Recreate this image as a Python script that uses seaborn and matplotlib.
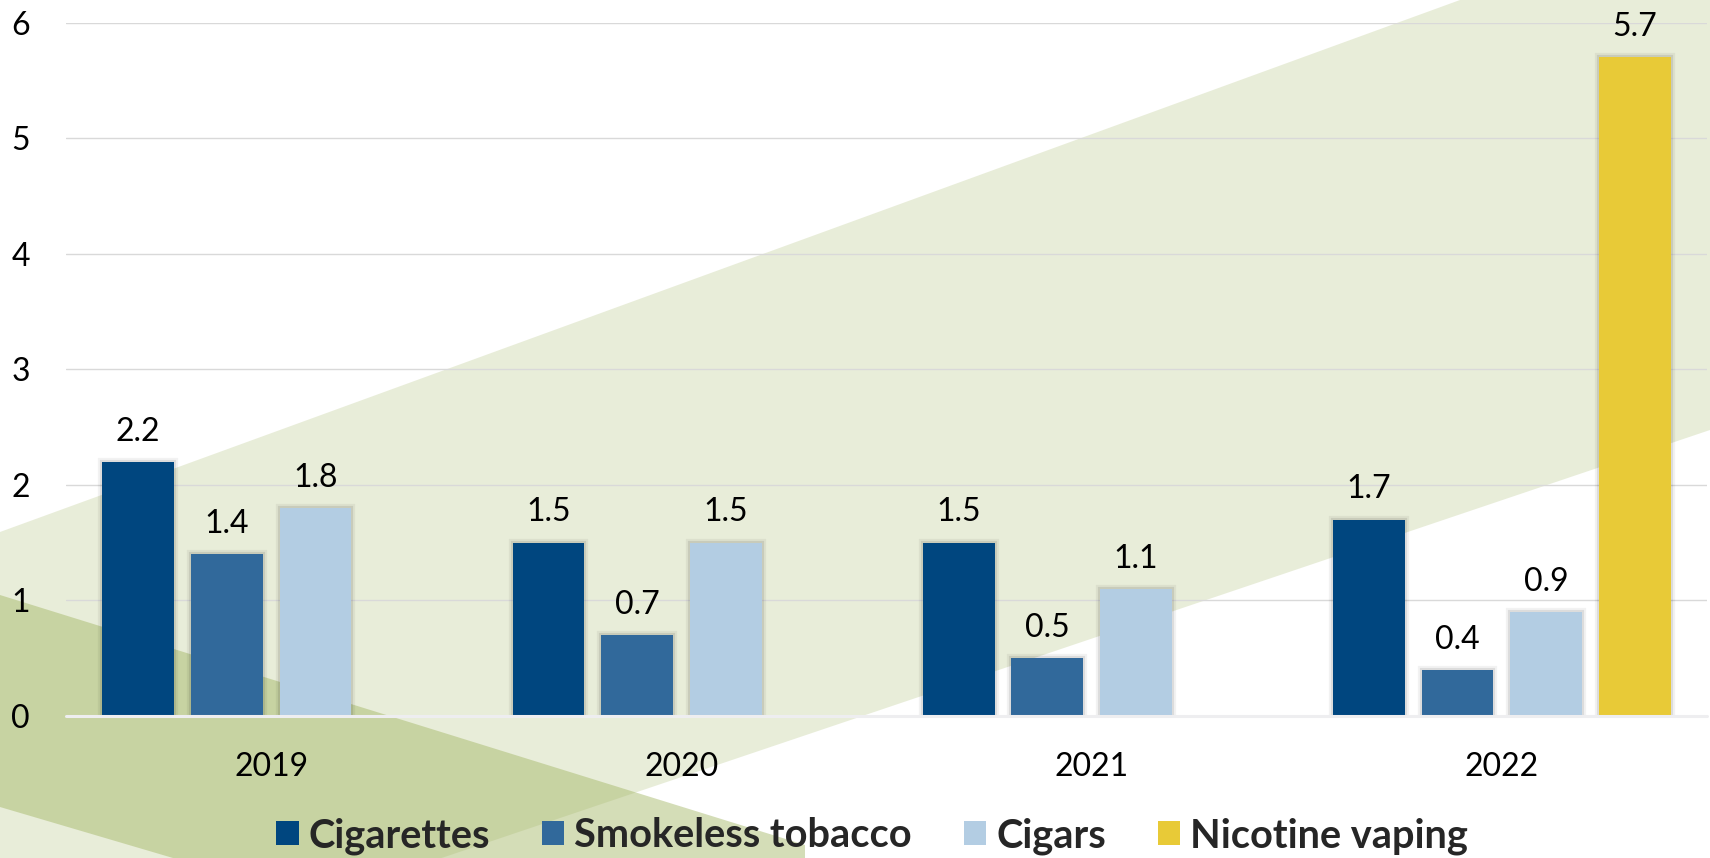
import matplotlib
matplotlib.use("Agg")
import matplotlib.pyplot as plt
import matplotlib.patheffects as pe
from matplotlib.patches import Polygon, Patch
import pandas as pd
import seaborn as sns

# ---- data -------------------------------------------------------------
years = ["2019", "2020", "2021", "2022"]
products = ["Cigarettes", "Smokeless tobacco", "Cigars", "Nicotine vaping"]
cigarettes = [2.2, 1.5, 1.5, 1.7]
smokeless = [1.4, 0.7, 0.5, 0.4]
cigars = [1.8, 1.5, 1.1, 0.9]
vaping_years = ["2022"]
vaping = [5.7]
y_ticks = [0, 1, 2, 3, 4, 5, 6]

colors = ["#00467F", "#31699B", "#B3CDE3", "#E8CA37"]

rows = []
for prod, yrs, vals in [
    (products[0], years, cigarettes),
    (products[1], years, smokeless),
    (products[2], years, cigars),
    (products[3], vaping_years, vaping),
]:
    for yr, v in zip(yrs, vals):
        rows.append({"year": yr, "product": prod, "value": v})
df = pd.DataFrame(rows)

# ---- style ------------------------------------------------------------
sns.set_style("white")
plt.rcParams["font.family"] = ["Lato", "DejaVu Sans"]

W, H = 1710, 858
fig = plt.figure(figsize=(W / 100, H / 100), dpi=100)

# decorative diagonal bands in the background (pixel coordinates)
bg = fig.add_axes([0, 0, 1, 1], zorder=0)
bg.set_xlim(0, W)
bg.set_ylim(H, 0)
bg.axis("off")
band = (160 / 255, 180 / 255, 96 / 255)
bg.add_patch(Polygon([(0, 532), (1460, 0), (W, 0), (W, 430), (0, 1007)],
                     closed=True, fc=band, alpha=0.235, lw=0))
bg.add_patch(Polygon([(0, 595), (805, 845), (805, H), (173, H), (0, 807)],
                     closed=True, fc=band, alpha=0.45, lw=0))

# ---- chart ------------------------------------------------------------
ax = fig.add_axes([66 / W, 1 - 716 / H, (1707 - 66) / W, (716 - 22.7) / H], zorder=1)
ax.patch.set_alpha(0)

sns.barplot(data=df, x="year", y="value", hue="product", order=years,
            hue_order=products, palette=colors, saturation=1, width=0.864,
            gap=0.19, errorbar=None, legend=False, ax=ax)

glow = [pe.withStroke(linewidth=6, foreground=(0, 0, 0, 0.05)),
        pe.withStroke(linewidth=3, foreground=(0, 0, 0, 0.09)),
        pe.Normal()]
for bar in ax.patches:
    bar.set_linewidth(0)
    bar.set_path_effects(glow)

for cont in ax.containers:
    ax.bar_label(cont, fmt="%.1f", padding=11, fontsize=23, color="black")

ax.set_xlim(-0.5, 3.5)
ax.set_ylim(0, 6)
ax.set_yticks(y_ticks)
ax.grid(axis="y", color="#D9D9D9", lw=1.0)
ax.grid(axis="x", visible=False)
ax.set_axisbelow(True)
for s in ax.spines.values():
    s.set_visible(False)
ax.axhline(0, color="#EEEEF0", lw=2.2, zorder=5, clip_on=False)
ax.tick_params(axis="both", length=0, labelsize=23, colors="black")
ax.tick_params(axis="y", pad=26)
ax.tick_params(axis="x", pad=26)
ax.set_xlabel("")
ax.set_ylabel("")

handles = [Patch(facecolor=c, edgecolor="none") for c in colors]
fig.legend(handles, products, loc="center", bbox_to_anchor=(872 / W, 1 - 836 / H),
           ncol=4, frameon=False, prop=dict(weight="bold", size=28.6),
           handlelength=0.57, handleheight=0.57, handletextpad=0.25,
           columnspacing=1.3)

fig.savefig("out.png", dpi=100)
